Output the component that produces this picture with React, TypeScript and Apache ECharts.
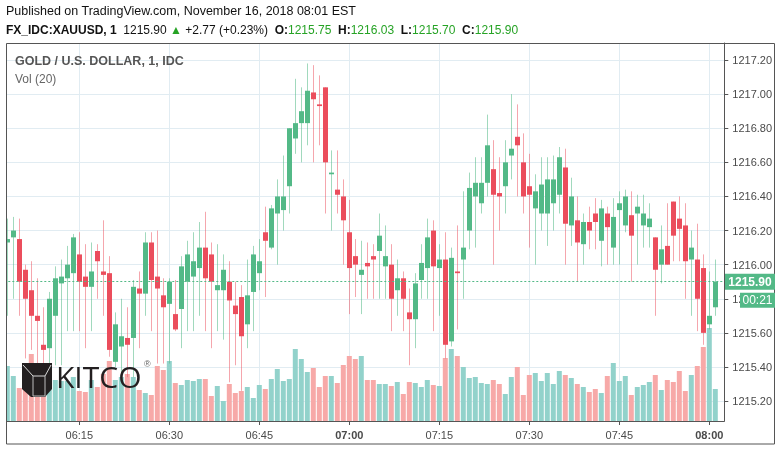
import { useEffect, useRef } from 'react';
import * as echarts from 'echarts';

// ---- data (1-minute XAUUSD, 06:03 .. 08:01 EST) ----
const firstMinute = { hour: 6, minute: 3 };
const opens = [
  1216.13, 1216.16, 1216.15, 1215.97, 1215.85, 1215.70, 1215.53, 1215.51, 1215.70, 1215.89, 1215.92, 1215.95, 1216.06, 1215.93, 1215.87,
  1216.08, 1215.96, 1215.95, 1215.43, 1215.52, 1215.57, 1215.57, 1215.86, 1215.83, 1216.13, 1215.93, 1215.82, 1215.77, 1215.71, 1215.74,
  1215.90, 1215.93, 1215.98, 1216.10, 1216.06, 1215.85, 1215.85, 1215.90, 1215.76, 1215.81, 1215.65, 1215.84, 1215.95, 1216.19, 1216.10,
  1216.30, 1216.32, 1216.46, 1216.74, 1216.83, 1216.83, 1217.01, 1216.94, 1217.04, 1216.53, 1216.44, 1216.40, 1216.19, 1216.05, 1215.94,
  1216.01, 1216.05, 1216.08, 1215.99, 1216.00, 1215.85, 1215.92, 1215.72, 1215.68, 1215.91, 1215.98, 1216.20, 1215.98, 1216.03, 1215.55,
  1215.96, 1216.03, 1216.20, 1216.40, 1216.36, 1216.48, 1216.56, 1216.42, 1216.46, 1216.64, 1216.75, 1216.60, 1216.46, 1216.33, 1216.30,
  1216.30, 1216.36, 1216.41, 1216.57, 1216.23, 1216.26, 1216.12, 1216.25, 1216.30, 1216.14, 1216.30, 1216.10, 1216.32, 1216.23, 1216.29,
  1216.30, 1216.23, 1216.22, 1216.16, 1216.00, 1216.11, 1216.37, 1216.27, 1216.23, 1216.03, 1216.03, 1215.98, 1215.65, 1215.75,
];
const closes = [
  1216.15, 1216.20, 1215.90, 1215.80, 1215.70, 1215.67, 1215.50, 1215.80, 1215.92, 1215.93, 1216.00, 1216.16, 1215.90, 1215.87, 1215.96,
  1216.02, 1215.94, 1215.50, 1215.65, 1215.58, 1215.53, 1215.87, 1215.83, 1216.13, 1215.91, 1215.86, 1215.75, 1215.90, 1215.62, 1215.99,
  1216.06, 1216.02, 1216.10, 1215.92, 1215.90, 1215.88, 1215.97, 1215.79, 1215.71, 1215.58, 1215.82, 1216.06, 1216.02, 1216.14, 1216.33,
  1216.40, 1216.40, 1216.80, 1216.83, 1216.90, 1217.02, 1216.97, 1216.93, 1216.60, 1216.54, 1216.41, 1216.26, 1215.98, 1216.00, 1215.97,
  1215.99, 1216.03, 1216.17, 1216.05, 1215.80, 1215.92, 1215.80, 1215.68, 1215.89, 1216.01, 1216.16, 1215.99, 1216.03, 1215.53, 1216.04,
  1215.95, 1216.10, 1216.45, 1216.48, 1216.48, 1216.70, 1216.41, 1216.40, 1216.60, 1216.68, 1216.70, 1216.40, 1216.41, 1216.43, 1216.47,
  1216.50, 1216.50, 1216.63, 1216.24, 1216.40, 1216.13, 1216.25, 1216.20, 1216.25, 1216.33, 1216.22, 1216.28, 1216.36, 1216.40, 1216.17,
  1216.34, 1216.30, 1216.27, 1215.97, 1216.09, 1216.00, 1216.17, 1216.21, 1216.02, 1216.10, 1215.80, 1215.60, 1215.70, 1215.90,
];
const highs = [
  1216.27, 1216.28, 1216.27, 1216.00, 1216.02, 1215.92, 1215.75, 1215.84, 1215.99, 1216.03, 1216.11, 1216.18, 1216.19, 1216.12, 1216.13,
  1216.12, 1216.26, 1216.05, 1215.72, 1215.80, 1215.75, 1215.91, 1215.96, 1216.19, 1216.19, 1216.20, 1215.92, 1215.92, 1215.91, 1216.05,
  1216.14, 1216.19, 1216.25, 1216.31, 1216.13, 1216.12, 1216.06, 1216.02, 1215.90, 1215.88, 1216.03, 1216.11, 1216.15, 1216.34, 1216.35,
  1216.50, 1216.64, 1216.80, 1217.09, 1217.04, 1217.18, 1217.17, 1217.11, 1217.04, 1216.67, 1216.67, 1216.50, 1216.38, 1216.15, 1216.14,
  1216.13, 1216.12, 1216.30, 1216.23, 1216.12, 1216.03, 1215.96, 1215.86, 1215.95, 1216.12, 1216.27, 1216.26, 1216.12, 1216.19, 1216.10,
  1216.23, 1216.43, 1216.54, 1216.63, 1216.63, 1216.88, 1216.73, 1216.63, 1216.73, 1217.00, 1216.94, 1216.77, 1216.65, 1216.53, 1216.63,
  1216.63, 1216.64, 1216.69, 1216.68, 1216.51, 1216.40, 1216.30, 1216.34, 1216.39, 1216.38, 1216.34, 1216.39, 1216.43, 1216.44, 1216.43,
  1216.41, 1216.41, 1216.36, 1216.16, 1216.23, 1216.36, 1216.37, 1216.40, 1216.36, 1216.20, 1216.24, 1216.06, 1215.96, 1216.03,
];
const lows = [
  1215.70, 1215.80, 1215.70, 1215.45, 1215.50, 1215.42, 1215.32, 1215.42, 1215.41, 1215.41, 1215.61, 1215.61, 1215.61, 1215.51, 1215.61,
  1215.80, 1215.70, 1215.46, 1215.40, 1215.34, 1215.34, 1215.34, 1215.51, 1215.70, 1215.61, 1215.42, 1215.42, 1215.42, 1215.61, 1215.51,
  1215.61, 1215.61, 1215.70, 1215.61, 1215.51, 1215.61, 1215.56, 1215.31, 1215.41, 1215.26, 1215.51, 1215.61, 1215.85, 1215.81, 1216.09,
  1216.00, 1216.20, 1216.30, 1216.65, 1216.60, 1216.70, 1216.60, 1216.70, 1216.30, 1216.20, 1216.30, 1216.00, 1215.71, 1215.81, 1215.71,
  1215.80, 1215.80, 1215.80, 1215.80, 1215.61, 1215.70, 1215.61, 1215.41, 1215.51, 1215.80, 1215.80, 1215.61, 1215.70, 1215.45, 1215.52,
  1215.62, 1215.80, 1216.09, 1216.10, 1216.30, 1216.40, 1216.00, 1216.20, 1216.30, 1216.50, 1216.40, 1216.30, 1216.10, 1216.00, 1216.20,
  1216.11, 1216.20, 1216.30, 1216.00, 1216.11, 1215.90, 1216.00, 1216.09, 1216.09, 1215.99, 1216.00, 1216.00, 1216.00, 1216.19, 1215.90,
  1216.00, 1216.10, 1216.10, 1215.70, 1215.89, 1216.00, 1216.02, 1216.02, 1215.80, 1215.70, 1215.61, 1215.53, 1215.62, 1215.70,
];
const volumes = [
  55, 45, 33, 37, 67, 35, 30, 49, 41, 40, 40, 44, 30, 29, 41,
  34, 47, 60, 41, 44, 47, 44, 31, 28, 26, 55, 51, 60, 38, 36,
  41, 40, 42, 42, 25, 35, 20, 37, 28, 30, 34, 23, 36, 32, 42,
  52, 40, 42, 72, 62, 49, 53, 34, 45, 45, 38, 56, 65, 62, 65,
  41, 41, 37, 37, 35, 39, 27, 39, 38, 34, 41, 36, 35, 63, 72,
  65, 54, 43, 44, 38, 37, 41, 37, 27, 44, 54, 26, 46, 48, 40,
  48, 37, 50, 46, 43, 37, 34, 29, 32, 28, 45, 58, 40, 45, 26,
  34, 36, 39, 46, 31, 41, 39, 50, 30, 46, 55, 74, 93, 32,
];
const timeTickLabels = ['06:15', '06:30', '06:45', '07:00', '07:15', '07:30', '07:45', '08:00'];
const boldTimeLabels = ['07:00', '08:00'];
const priceMin = 1215.083;
const priceMax = 1217.3;
const volumeAxisMax = 378;
const lastClose = 1215.9;
const countdown = '00:21';

const titleLine = 'Published on TradingView.com, November 16, 2018 08:01 EST';
const symbolName = 'FX_IDC:XAUUSD, 1';
const changeText = '+2.77 (+0.23%)';
const ohlcLast = { O: '1215.75', H: '1216.03', L: '1215.70', C: '1215.90' };

// categories: one per minute plus an empty slot at the right edge
const categories: string[] = [];
for (let i = 0; i <= opens.length; i++) {
  const t = firstMinute.hour * 60 + firstMinute.minute + i;
  categories.push(String(Math.floor(t / 60)).padStart(2, '0') + ':' + String(t % 60).padStart(2, '0'));
}

const UP = '#53b987';
const DOWN = '#eb4d5c';
const UP_WICK = 'rgba(83,185,135,0.55)';
const DOWN_WICK = 'rgba(235,77,92,0.5)';
const VOL_UP = '#92d2cb';
const VOL_DOWN = '#f7a9a8';
const GRID = '#e1ecf2';
const AXIS = '#555555';
const FONT = '"Liberation Sans", Arial, sans-serif';
const GREEN_TXT = '#26a325';

export default function App() {
  const ref = useRef<HTMLDivElement>(null);
  useEffect(() => {
    const chart = echarts.init(ref.current as HTMLDivElement, undefined, { renderer: 'svg' });
    const isTimeTick = (_i: number, v: string) => timeTickLabels.includes(v);
    const candleData = opens.map((o, i) => [i, o, closes[i], lows[i], highs[i]]);
    const volData = volumes.map((v, i) => ({
      value: v,
      itemStyle: { color: closes[i] >= opens[i] ? VOL_UP : VOL_DOWN },
    }));

    chart.setOption({
      animation: false,
      textStyle: { fontFamily: FONT },
      grid: { left: 4.3, right: 57.7, top: 43, bottom: 32, containLabel: false },
      xAxis: {
        type: 'category',
        data: categories,
        boundaryGap: true,
        axisLine: { show: true, lineStyle: { color: AXIS } },
        axisTick: { show: true, interval: isTimeTick, alignWithLabel: true, length: 4, lineStyle: { color: AXIS } },
        axisLabel: {
          interval: isTimeTick,
          margin: 8,
          color: '#4a4a4a',
          fontSize: 11,
          fontFamily: FONT,
          formatter: (v: string) => (boldTimeLabels.includes(v) ? '{b|' + v + '}' : v),
          rich: { b: { fontWeight: 'bold', fontSize: 11, color: '#4a4a4a', fontFamily: FONT } },
        },
        splitLine: { show: true, interval: isTimeTick, alignWithLabel: true, lineStyle: { color: GRID } },
      },
      yAxis: [
        {
          type: 'value',
          position: 'right',
          min: priceMin,
          max: priceMax,
          splitNumber: 11,
          axisLine: { show: true, lineStyle: { color: AXIS } },
          axisTick: { show: true, length: 4, lineStyle: { color: AXIS } },
          axisLabel: {
            showMinLabel: false,
            showMaxLabel: false,
            margin: 8,
            color: '#4a4a4a',
            fontSize: 11,
            fontFamily: FONT,
            formatter: (v: number) => v.toFixed(2),
          },
          splitLine: { show: true, lineStyle: { color: GRID } },
        },
        { type: 'value', min: 0, max: volumeAxisMax, show: false, splitLine: { show: false } },
      ],
      series: [
        {
          type: 'bar',
          name: 'Vol',
          xAxisIndex: 0,
          yAxisIndex: 1,
          barWidth: 5,
          z: 2,
          data: volData,
        },
        {
          type: 'line',
          name: 'last',
          xAxisIndex: 0,
          yAxisIndex: 0,
          data: [],
          z: 2,
          markLine: {
            silent: true,
            symbol: ['none', 'none'],
            label: { show: false },
            lineStyle: { color: UP, type: [2, 2], width: 1 },
            data: [{ yAxis: lastClose }],
          },
        },
        {
          type: 'custom',
          name: 'XAUUSD',
          xAxisIndex: 0,
          yAxisIndex: 0,
          z: 3,
          data: candleData,
          encode: { x: 0, y: [1, 2, 3, 4] },
          renderItem: (_params: any, api: any) => {
            const i = api.value(0);
            const o = api.value(1);
            const c = api.value(2);
            const l = api.value(3);
            const h = api.value(4);
            const po = api.coord([i, o]);
            const x = Math.round(po[0]);
            const yo = po[1];
            const yc = api.coord([i, c])[1];
            const yl = api.coord([i, l])[1];
            const yh = api.coord([i, h])[1];
            const up = c >= o;
            const top = Math.min(yo, yc);
            const bh = Math.max(Math.abs(yo - yc), 1.5);
            return {
              type: 'group',
              children: [
                {
                  type: 'line',
                  shape: { x1: x + 0.5, y1: yh, x2: x + 0.5, y2: yl },
                  style: { stroke: up ? UP_WICK : DOWN_WICK, lineWidth: 1 },
                },
                {
                  type: 'rect',
                  shape: { x: x - 2, y: top, width: 5, height: bh },
                  style: { fill: up ? UP : DOWN },
                },
              ],
            };
          },
        },
      ],
    });

    const yLast = chart.convertToPixel({ yAxisIndex: 0 }, lastClose) as number;
    const rich = {
      b: { fontWeight: 'bold', fill: '#111', fontSize: 12, fontFamily: FONT },
      n: { fill: '#111', fontSize: 12, fontFamily: FONT },
      g: { fill: GREEN_TXT, fontSize: 12, fontFamily: FONT },
    };
    chart.setOption({
      graphic: [
        {
          type: 'text', x: 6, y: 11, z: 20,
          style: { text: titleLine, fill: '#111', fontSize: 12.5, fontFamily: FONT, verticalAlign: 'middle' },
        },
        {
          type: 'text', x: 6, y: 30, z: 20,
          style: {
            text:
              '{b|' + symbolName + '}  {n|' + lastClose.toFixed(2) + '} {g|▲} {n|' + changeText + '}  ' +
              '{b|O:}{g|' + ohlcLast.O + '}  {b|H:}{g|' + ohlcLast.H + '}  {b|L:}{g|' + ohlcLast.L + '}  {b|C:}{g|' + ohlcLast.C + '}',
            rich,
            verticalAlign: 'middle',
          },
        },
        {
          type: 'text', x: 15, y: 61, z: 20,
          style: { text: 'GOLD / U.S. DOLLAR, 1, IDC', fill: '#555', fontSize: 12.5, fontWeight: 'bold', fontFamily: FONT, verticalAlign: 'middle' },
        },
        {
          type: 'text', x: 15, y: 79, z: 20,
          style: { text: 'Vol (20)', fill: '#666', fontSize: 12, fontFamily: FONT, verticalAlign: 'middle' },
        },
        // left clipping mask + outer frame
        { type: 'rect', z: 30, shape: { x: 0, y: 40, width: 6, height: 385 }, style: { fill: '#fff' } },
        {
          type: 'rect', z: 31,
          shape: { x: 6.5, y: 43.5, width: 768, height: 400.5 },
          style: { fill: 'none', stroke: AXIS, lineWidth: 1 },
        },
        // KITCO logo
        {
          type: 'group', z: 25,
          children: [
            { type: 'polygon', z: 25, shape: { points: [[22, 363], [52, 363], [52, 389], [45, 397], [31, 397], [22, 389]] }, style: { fill: '#231f20' } },
            { type: 'polyline', z: 26, shape: { points: [[23, 365], [33, 376], [45, 376], [51, 365]] }, style: { stroke: '#d8d8d8', lineWidth: 1, fill: 'none' } },
            { type: 'polyline', z: 26, shape: { points: [[33, 376], [33, 396], [45, 396], [45, 376]] }, style: { stroke: '#bdbdbd', lineWidth: 1, fill: 'none' } },
            { type: 'text', z: 26, x: 56, y: 376, style: { text: 'KITCO', fill: '#231f20', fontSize: 30, fontFamily: '"Open Sans", sans-serif', verticalAlign: 'middle' } },
            { type: 'text', z: 26, x: 144, y: 364, style: { text: '®', fill: '#666', fontSize: 9, fontFamily: FONT, verticalAlign: 'middle' } },
          ],
        },
        // last price and countdown boxes on the price axis
        { type: 'rect', z: 40, shape: { x: 725, y: yLast - 8, width: 50, height: 16 }, style: { fill: UP } },
        {
          type: 'text', z: 41, x: 750, y: yLast,
          style: { text: lastClose.toFixed(2), fill: '#fff', fontSize: 12, fontWeight: 'bold', fontFamily: FONT, align: 'center', verticalAlign: 'middle' },
        },
        { type: 'rect', z: 40, shape: { x: 740, y: yLast + 11, width: 35, height: 15 }, style: { fill: UP } },
        {
          type: 'text', z: 41, x: 757.5, y: yLast + 18.5,
          style: { text: countdown, fill: '#fff', fontSize: 12, fontFamily: FONT, align: 'center', verticalAlign: 'middle' },
        },
      ],
    });
    return () => chart.dispose();
  }, []);
  return <div ref={ref} style={{ position: 'fixed', left: 0, top: 0, width: 782, height: 453 }} />;
}
